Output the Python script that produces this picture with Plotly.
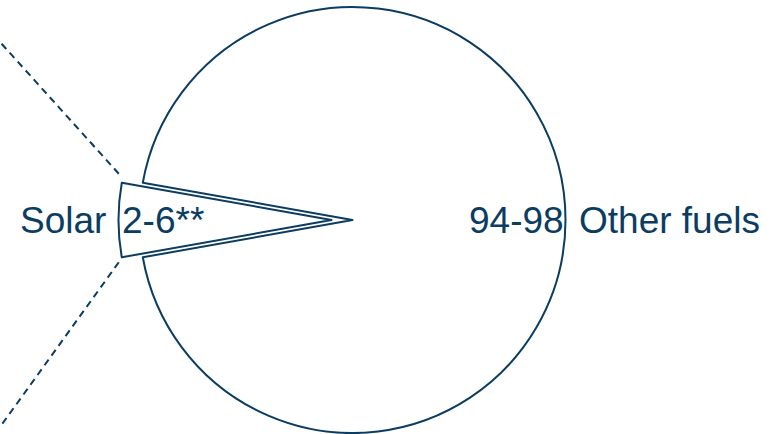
import math
import plotly.graph_objects as go

# ---- data ----
labels = ["Solar", "Other fuels"]
values = [5.6, 94.4]
value_text = ["2-6**", "94-98"]

# ---- style / layout constants ----
W, H = 773, 434
NAVY = "#0b3c61"
LW = 2
CX, CY, R = 352.5, 220.0, 213.0   # pie centre (px from left/top) and radius
PULL_PX = 21                        # solar slice shifted left
FONT = dict(family="Arial, Liberation Sans, sans-serif", size=37, color=NAVY)

solar_frac = values[0] / sum(values)
rotation = 270 - solar_frac * 360 / 2


def domain(cx):
    return dict(x=[(cx - R) / W, (cx + R) / W],
                y=[(H - CY - R) / H, (H - CY + R) / H])


fig = go.Figure()
# main pie: only "Other fuels" visible
fig.add_trace(go.Pie(
    labels=labels, values=values, sort=False, direction="clockwise",
    rotation=rotation, textinfo="none", hoverinfo="skip", showlegend=False,
    marker=dict(colors=["rgba(0,0,0,0)", "white"],
                line=dict(color=NAVY, width=[0, LW])),
    domain=domain(CX),
))
# pulled-out solar slice
fig.add_trace(go.Pie(
    labels=labels, values=values, sort=False, direction="clockwise",
    rotation=rotation, textinfo="none", hoverinfo="skip", showlegend=False,
    marker=dict(colors=["white", "rgba(0,0,0,0)"],
                line=dict(color=NAVY, width=[LW, 0])),
    domain=domain(CX - PULL_PX),
))


def px(x):
    return x / W


def py(y):
    return (H - y) / H


solar_arc_x = CX - PULL_PX - R
other_arc_x = CX + R
ann = [
    dict(text=labels[0], x=px(solar_arc_x - 12), xanchor="right"),
    dict(text=value_text[0], x=px(solar_arc_x + 2), xanchor="left"),
    dict(text=value_text[1], x=px(other_arc_x - 1), xanchor="right"),
    dict(text=labels[1], x=px(other_arc_x + 12), xanchor="left"),
]
for a in ann:
    a.update(xref="paper", yref="paper", y=py(CY), yanchor="middle",
             showarrow=False, font=FONT, borderpad=0)

# dashed connector lines from solar slice corners to the left edge
half = solar_frac * math.pi
tipx = CX - PULL_PX
cxs = tipx - R * math.cos(half)
dy = R * math.sin(half)
shapes = [
    dict(type="line", xref="paper", yref="paper",
         x0=px(cxs - 3), y0=py(CY - dy - 9), x1=0, y1=py(42),
         line=dict(color=NAVY, width=LW, dash="7px,5px")),
    dict(type="line", xref="paper", yref="paper",
         x0=px(cxs - 3), y0=py(CY + dy + 5), x1=0, y1=py(427),
         line=dict(color=NAVY, width=LW, dash="7px,5px")),
]

fig.update_layout(
    width=W, height=H, margin=dict(l=0, r=0, t=0, b=0),
    paper_bgcolor="white", plot_bgcolor="white",
    annotations=ann, shapes=shapes,
)
fig.write_html("out.html")
